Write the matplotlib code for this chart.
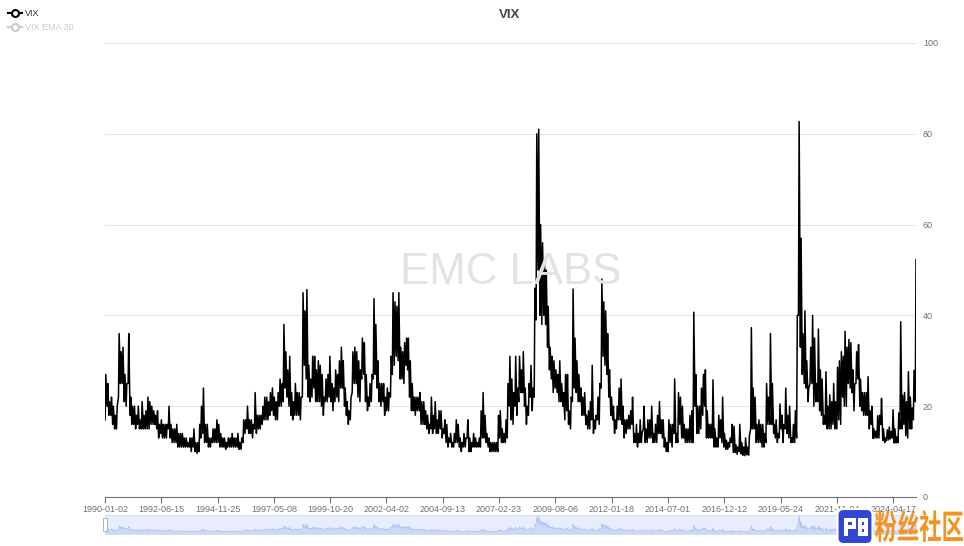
import numpy as np
import pandas as pd
import matplotlib
matplotlib.use("Agg")
import matplotlib.pyplot as plt
from matplotlib.patches import Rectangle, FancyBboxPatch, PathPatch
from matplotlib.textpath import TextPath
from matplotlib.font_manager import FontProperties
from matplotlib.transforms import Affine2D

plt.rcParams["font.family"] = ["Liberation Sans", "DejaVu Sans"]

# monthly lows / highs of the VIX (one row per year)
vix_low = [
    17, 20, 18, 18, 16, 15, 15, 22, 25, 25, 21, 20,  # 1990
    25, 18, 16, 16, 15, 16, 15, 15, 15, 15, 15, 15,  # 1991
    16, 16, 16, 15, 13, 14, 13, 13, 13, 15, 13, 12,  # 1992
    12, 12, 11, 11, 11, 11, 11, 11, 11, 10, 11, 10,  # 1993
    9.6, 10, 13, 14, 12, 12, 11, 11, 12, 12, 12, 12,  # 1994
    11, 11, 11, 10.5, 11, 11, 11, 11, 11, 11, 10.5, 10.5,  # 1995
    12, 14, 15, 14, 14, 13, 15, 14, 15, 15, 16, 17,  # 1996
    17, 17, 18, 19, 18, 17, 17, 20, 20, 21, 24, 22,  # 1997
    20, 18, 17, 18, 18, 18, 17, 22, 29, 26, 22, 21,  # 1998
    22, 24, 21, 21, 21, 20, 18, 21, 21, 22, 21, 19,  # 1999
    21, 22, 21, 24, 24, 20, 18, 16, 17, 23, 25, 25,  # 2000
    22, 21, 26, 27, 21, 19, 20, 21, 26, 27, 24, 21,  # 2001
    20, 21, 18, 19, 19, 22, 27, 29, 31, 30, 26, 26,  # 2002
    25, 29, 28, 22, 19, 19, 18, 19, 19, 16, 16, 16,  # 2003
    15, 14, 15, 14, 15, 14, 14, 15, 13, 14, 12, 11,  # 2004
    12, 11, 11, 12, 12, 11, 10, 11, 11, 13, 10, 10,  # 2005
    11, 11, 11, 11, 11, 13, 13, 12, 11, 10, 10, 10,  # 2006
    10, 10, 13, 12, 12, 12, 13, 20, 17, 16, 20, 18,  # 2007
    21, 23, 23, 20, 16, 18, 22, 19, 22, 39, 50, 40,  # 2008
    38, 40, 38, 33, 28, 26, 23, 24, 23, 21, 21, 20,  # 2009
    17, 19, 16, 15, 21, 24, 23, 21, 21, 18, 18, 16,  # 2010
    15, 15, 17, 14, 15, 17, 16, 24, 31, 29, 27, 22,  # 2011
    18, 17, 14, 15, 17, 17, 16, 13, 14, 15, 15, 16,  # 2012
    12, 12, 11, 12, 12, 15, 12, 12, 13, 13, 12, 12,  # 2013
    12, 14, 14, 13, 11, 10, 10, 12, 11, 14, 12, 12,  # 2014
    16, 13, 13, 12, 12, 12, 12, 12, 20, 14, 14, 15,  # 2015
    18, 20, 13, 13, 13, 13, 11, 11, 11, 13, 12, 11,  # 2016
    10.5, 10.5, 11, 12, 9.8, 9.8, 9.4, 10, 9.5, 9.2, 9.1, 9.3,  # 2017
    9.2, 15, 15, 15, 12, 12, 12, 11, 11, 12, 16, 16,  # 2018
    16, 14, 13, 12, 13, 15, 12, 15, 14, 13, 12, 12,  # 2019
    12, 13, 40, 33, 27, 25, 24, 21, 25, 25, 20, 21,  # 2020
    21, 19, 18, 16, 16, 15, 15, 15, 16, 15, 15, 17,  # 2021
    16, 22, 20, 20, 25, 24, 23, 19, 25, 26, 20, 19,  # 2022
    18, 18, 18, 15, 16, 12.9, 13, 13, 13, 16, 12.5, 12,  # 2023
    12.4, 12.6, 12.8, 13, 11.9, 11.9, 12, 15, 15, 16, 13.5, 13,  # 2024
    15, 15, 17, 21,  # 2025
]
vix_high = [
    27, 25, 21, 22, 20, 18, 20, 36, 32, 33, 27, 25,  # 1990
    36, 22, 20, 20, 18, 20, 17, 21, 18, 19, 22, 21,  # 1991
    20, 19, 18, 19, 16, 17, 16, 16, 16, 20, 16, 15,  # 1992
    15, 16, 14, 14, 14, 13, 13, 12, 13, 13, 15, 12,  # 1993
    12, 16, 20, 24, 16, 16, 13, 13, 15, 15, 17, 16,  # 1994
    14, 13, 13, 12, 13, 13, 14, 13, 13, 14, 12, 13,  # 1995
    17, 17, 20, 17, 17, 16, 23, 18, 18, 18, 20, 22,  # 1996
    22, 21, 23, 24, 22, 21, 23, 26, 25, 38, 32, 28,  # 1997
    31, 23, 21, 25, 23, 23, 22, 45, 41, 45.7, 29, 26,  # 1998
    31, 31, 28, 30, 29, 27, 22, 26, 27, 31, 25, 24,  # 1999
    28, 27, 30, 33, 30, 24, 21, 19, 22, 32, 33, 32,  # 2000
    30, 28, 35, 34, 27, 22, 25, 27, 43.7, 38, 30, 25,  # 2001
    25, 25, 22, 24, 23, 31, 45, 43, 42, 45, 33, 32,  # 2002
    34, 35, 35, 30, 25, 22, 22, 22, 23, 21, 21, 19,  # 2003
    18, 16, 22, 18, 21, 17, 19, 19, 15, 17, 16, 13,  # 2004
    14, 12, 14, 17, 16, 13, 12, 14, 13, 17, 13, 12,  # 2005
    14, 13, 12, 13, 19, 23, 18, 14, 13, 12, 12, 12,  # 2006
    12, 18, 19, 15, 14, 17, 25, 31, 26, 23, 31, 24,  # 2007
    31, 28, 32, 24, 20, 25, 29, 24, 46, 80, 81, 60,  # 2008
    56, 52, 50, 42, 33, 31, 30, 28, 27, 30, 25, 23,  # 2009
    27, 27, 19, 22, 45.8, 35, 30, 27, 24, 22, 23, 18,  # 2010
    19, 21, 29, 17, 18, 22, 25, 48, 43, 41, 36, 28,  # 2011
    22, 20, 17, 20, 24, 26, 20, 17, 17, 18, 19, 22,  # 2012
    14, 16, 14, 17, 14, 20, 15, 17, 17, 20, 14, 16,  # 2013
    18, 21, 17, 17, 13, 12, 17, 16, 16, 26, 14, 23,  # 2014
    22, 20, 16, 15, 15, 18, 19, 40.7, 27, 20, 20, 24,  # 2015
    27, 28, 19, 16, 16, 25.8, 15, 13, 18, 17, 22, 14,  # 2016
    12.5, 12, 13, 16, 15.6, 11.5, 11, 16, 12, 11, 13, 11,  # 2017
    13.5, 37.3, 24, 22, 16, 17, 16, 16, 14, 25, 22, 36,  # 2018
    25, 16, 17, 14, 20.5, 18, 16, 24, 18, 20, 13, 16,  # 2019
    19, 40, 82.7, 57, 36, 41, 30, 24, 33, 40, 35, 25,  # 2020
    37, 28, 26, 18, 27.6, 20, 22.5, 21, 25, 21, 28.6, 30,  # 2021
    32, 31, 36.5, 33, 34.7, 34, 28, 25, 32, 33.6, 26, 23,  # 2022
    23, 23, 26.5, 19, 20, 15, 14.5, 17.9, 18, 21.7, 15, 13,  # 2023
    14.8, 15.4, 14.4, 19.2, 15, 13.2, 18.5, 38.6, 22.4, 23, 21, 27.6,  # 2024
    22, 19.6, 27.9, 52.3,  # 2025
]
tick_dates = ["1990-01-02", "1992-06-15", "1994-11-25", "1997-05-08", "1999-10-20",
              "2002-04-02", "2004-09-13", "2007-02-23", "2009-08-06", "2012-01-18",
              "2014-07-01", "2016-12-12", "2019-05-24", "2021-11-04", "2024-04-17"]

months = pd.date_range("1990-01-01", periods=len(vix_low), freq="MS")
x = np.empty(2 * len(months), dtype="datetime64[ns]")
x[0::2] = (months + pd.Timedelta(days=3)).values
x[1::2] = (months + pd.Timedelta(days=14)).values
y = np.empty(2 * len(months))
y[0::2] = vix_low
y[1::2] = vix_high

W, H = 964, 546
fig = plt.figure(figsize=(W / 100, H / 100), dpi=100)
ax = fig.add_axes([105 / W, 1 - 497 / H, 811 / W, 454 / H])

ax.plot(x, y, color="black", lw=1.1, zorder=3)
ax.set_ylim(0, 100)
x0, x1 = pd.Timestamp("1990-01-02"), pd.Timestamp(x[-1])
ax.set_xlim(x0, x1)

ax.set_yticks([0, 20, 40, 60, 80, 100])
ax.yaxis.tick_right()
ax.tick_params(axis="y", length=0, pad=5, labelsize=6.5, labelcolor="#6e7079")
ax.grid(axis="y", color="#e0e6f1", lw=0.8, zorder=0)
ax.set_xticks(pd.to_datetime(tick_dates))
ax.set_xticklabels(tick_dates)
ax.tick_params(axis="x", length=4, width=0.8, color="#6e7079", pad=2,
               labelsize=6.5, labelcolor="#6e7079")
for s in ["top", "left", "right"]:
    ax.spines[s].set_visible(False)
ax.spines["bottom"].set_color("#6e7079")
ax.spines["bottom"].set_linewidth(0.8)

fig.text(511 / W, 1 - 272 / H, "EMC LABS", fontsize=31.5, color="#e3e3e3",
         ha="center", va="center", zorder=0)
fig.text(510 / W, 1 - 15 / H, "VIX", fontsize=9.5, fontweight="bold",
         color="#464646", ha="center", va="center")

# legend
fig.lines.append(plt.Line2D([8 / W, 22 / W], [1 - 13 / H] * 2, color="black", lw=1.5,
                            transform=fig.transFigure))
fig.lines.append(plt.Line2D([15 / W], [1 - 13 / H], marker="o", ms=5, mfc="white",
                            mec="black", mew=1.5, transform=fig.transFigure))
fig.text(25 / W, 1 - 13 / H, "VIX", fontsize=6.5, color="#333333", va="center")
fig.lines.append(plt.Line2D([8 / W, 22 / W], [1 - 27 / H] * 2, color="#cccccc", lw=1.5,
                            transform=fig.transFigure))
fig.lines.append(plt.Line2D([15 / W], [1 - 27 / H], marker="o", ms=5, mfc="white",
                            mec="#cccccc", mew=1.5, transform=fig.transFigure))
fig.text(25 / W, 1 - 27 / H, "VIX EMA 30", fontsize=6.5, color="#cccccc", va="center")

# data zoom slider
sl = fig.add_axes([105 / W, 1 - 534 / H, 811 / W, 19 / H])
sl.set_facecolor("#e7edfb")
sl.fill_between(x, y, color="#c5d4f6", alpha=0.8, lw=0)
sl.plot(x, y, color="#a6bdf1", lw=0.5)
sl.set_xlim(x0, x1)
sl.set_ylim(0, max(vix_high) * 1.05)
sl.set_xticks([])
sl.set_yticks([])
for s in sl.spines.values():
    s.set_color("#d2dbee")
    s.set_linewidth(0.6)
fig.patches.append(Rectangle((103 / W, 1 - 531 / H), 4 / W, 13 / H, facecolor="white",
                             edgecolor="#a0a8b8", lw=0.6, transform=fig.transFigure,
                             zorder=5))

# site watermark, bottom right
lg = fig.add_axes([836 / W, 0, 128 / W, 40 / H])
lg.set_xlim(0, 128)
lg.set_ylim(0, 40)
lg.axis("off")
lg.add_patch(FancyBboxPatch((1.5, 2), 35, 35, boxstyle="round,pad=0,rounding_size=6",
                            facecolor="#3346d3", edgecolor="white", lw=1.5))
for rx, ry, rw, rh in [(8, 10, 4, 18), (8, 24, 12, 4), (16, 17, 4, 11), (8, 17, 12, 4),
                       (22, 10, 4, 18), (22, 24, 10, 4), (28, 10, 4, 18), (22, 10, 10, 4),
                       (25, 17, 3, 4)]:
    lg.add_patch(Rectangle((rx, ry), rw, rh, facecolor="white", lw=0))
tp = TextPath((0, 0), "粉丝社区", size=10,
              prop=FontProperties(family="Noto Sans CJK SC", weight="bold"))
bb = tp.get_extents()
tr = Affine2D().translate(-bb.x0, -bb.y0).scale(88 / bb.width, 32 / bb.height).translate(39, 4)
lg.add_patch(PathPatch(tr.transform_path(tp), facecolor="#f39320", lw=0))

fig.savefig("out.png", dpi=100, facecolor="white")
